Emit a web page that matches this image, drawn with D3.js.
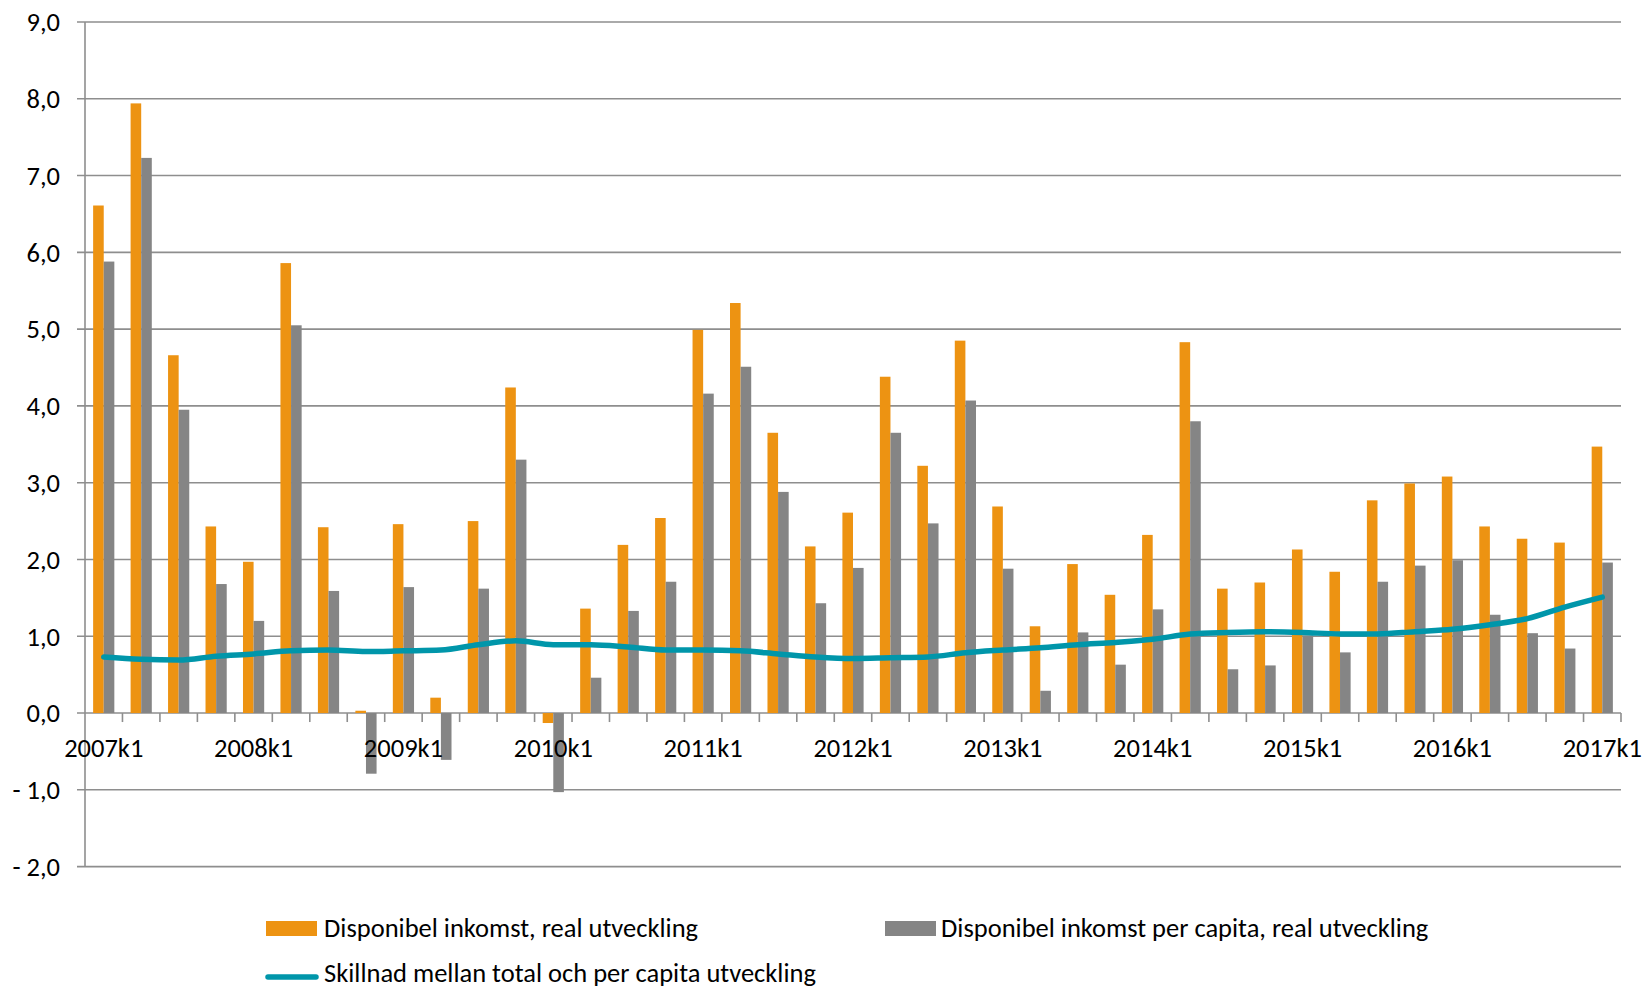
<!DOCTYPE html>
<html><head><meta charset="utf-8">
<script src="https://cdn.jsdelivr.net/npm/d3@7/dist/d3.min.js"></script>
<style>
html,body{margin:0;padding:0;background:#fff;}
svg{display:block;}
text{font-family:Calibri,Carlito,Lato,sans-serif;fill:#000;}
</style></head>
<body>
<svg id="chart" width="1645" height="989"></svg>
<script>
const quarters = ["2007k1","2007k2","2007k3","2007k4","2008k1","2008k2","2008k3","2008k4",
"2009k1","2009k2","2009k3","2009k4","2010k1","2010k2","2010k3","2010k4",
"2011k1","2011k2","2011k3","2011k4","2012k1","2012k2","2012k3","2012k4",
"2013k1","2013k2","2013k3","2013k4","2014k1","2014k2","2014k3","2014k4",
"2015k1","2015k2","2015k3","2015k4","2016k1","2016k2","2016k3","2016k4","2017k1"];
const totalReal = [6.61,7.94,4.66,2.43,1.97,5.86,2.42,0.03,
2.46,0.20,2.50,4.24,-0.13,1.36,2.19,2.54,
4.99,5.34,3.65,2.17,2.61,4.38,3.22,4.85,
2.69,1.13,1.94,1.54,2.32,4.83,1.62,1.70,
2.13,1.84,2.77,2.99,3.08,2.43,2.27,2.22,3.47];
const perCapita = [5.88,7.23,3.95,1.68,1.20,5.05,1.59,-0.79,
1.64,-0.61,1.62,3.30,-1.03,0.46,1.33,1.71,
4.16,4.51,2.88,1.43,1.89,3.65,2.47,4.07,
1.88,0.29,1.05,0.63,1.35,3.80,0.57,0.62,
1.01,0.79,1.71,1.92,1.99,1.28,1.04,0.84,1.96];
const difference = [0.73,0.70,0.69,0.74,0.77,0.81,0.82,0.80,
0.81,0.82,0.89,0.94,0.89,0.89,0.86,0.82,
0.82,0.81,0.77,0.73,0.71,0.72,0.73,0.785,
0.82,0.85,0.89,0.92,0.96,1.03,1.05,1.06,
1.05,1.03,1.03,1.06,1.09,1.15,1.23,1.38,1.51];
const yTicks = [9,8,7,6,5,4,3,2,1,0,-1,-2];
const xLabelEvery = 4;
const seriesNames = ["Disponibel inkomst, real utveckling","Disponibel inkomst per capita, real utveckling","Skillnad mellan total och per capita utveckling"];
const colors = {orange:"#ED9312", gray:"#858585", teal:"#0096AA", grid:"#8E8E8E"};

const svg = d3.select("#chart");
const plotLeft = 85, plotRight = 1621, plotTop = 22, plotBottom = 866.6;
const y = d3.scaleLinear().domain([-2,9]).range([plotBottom, plotTop]);
const x = d3.scaleBand().domain(quarters).range([plotLeft, plotRight]).paddingInner(0).paddingOuter(0);
const barW = x.bandwidth()*0.283;

// gridlines
svg.append("g").selectAll("line").data(yTicks).join("line")
  .attr("x1", plotLeft-8).attr("x2", plotRight)
  .attr("y1", d=>y(d)).attr("y2", d=>y(d))
  .attr("stroke", colors.grid).attr("stroke-width", 1.6);

// y labels
const fmt = d => (d<0 ? "- " + d3.format(".1f")(-d) : d3.format(".1f")(d)).replace(".", ",");
svg.append("g").selectAll("text").data(yTicks).join("text")
  .attr("x", 60).attr("y", d=>y(d)).attr("dy","0.35em")
  .attr("text-anchor","end").attr("font-size", 26.5).text(fmt);

// bars
const gBars = svg.append("g");
gBars.selectAll("rect.o").data(quarters).join("rect").attr("class","o")
  .attr("x", d=>x(d)+x.bandwidth()/2-barW)
  .attr("width", barW)
  .attr("y", (d,i)=>y(Math.max(0,totalReal[i])))
  .attr("height",(d,i)=>Math.abs(y(totalReal[i])-y(0)))
  .attr("fill", colors.orange);
gBars.selectAll("rect.g").data(quarters).join("rect").attr("class","g")
  .attr("x", d=>x(d)+x.bandwidth()/2)
  .attr("width", barW)
  .attr("y", (d,i)=>y(Math.max(0,perCapita[i])))
  .attr("height",(d,i)=>Math.abs(y(perCapita[i])-y(0)))
  .attr("fill", colors.gray);

// y axis line
svg.append("line").attr("x1",plotLeft).attr("x2",plotLeft).attr("y1",plotTop).attr("y2",plotBottom)
  .attr("stroke",colors.grid).attr("stroke-width",1.6);

// x axis
const xAxis = d3.axisBottom(x).tickSize(0).tickFormat((d,i)=> i%xLabelEvery===0 ? d : "");
const gx = svg.append("g").attr("transform",`translate(0,${y(0)})`).call(xAxis);
gx.select(".domain").remove();
gx.selectAll("text").attr("font-size",26.5).attr("dy",0).attr("y",44).style("font-family","Calibri,Carlito,Lato,sans-serif").attr("fill","#000");
const boundaries = quarters.map(q=>x(q)+x.bandwidth());
svg.append("g").selectAll("line").data(boundaries).join("line")
  .attr("x1",d=>d).attr("x2",d=>d).attr("y1",y(0)).attr("y2",y(0)+9)
  .attr("stroke",colors.grid).attr("stroke-width",1.6);

// line
const line = d3.line().x((d,i)=>x(quarters[i])+x.bandwidth()/2).y(d=>y(d)).curve(d3.curveMonotoneX);
svg.append("path").datum(difference).attr("d",line).attr("fill","none")
  .attr("stroke",colors.teal).attr("stroke-width",5.5).attr("stroke-linecap","round").attr("stroke-linejoin","round");

// legend
const lg = svg.append("g");
lg.append("rect").attr("x",266).attr("y",921).attr("width",51).attr("height",15).attr("fill",colors.orange);
lg.append("text").attr("x",324).attr("y",928).attr("dy","0.35em").attr("font-size",26.5).text(seriesNames[0]);
lg.append("rect").attr("x",885).attr("y",921).attr("width",51).attr("height",15).attr("fill",colors.gray);
lg.append("text").attr("x",941).attr("y",928).attr("dy","0.35em").attr("font-size",26.5).text(seriesNames[1]);
lg.append("line").attr("x1",268).attr("x2",316).attr("y1",977).attr("y2",977)
  .attr("stroke",colors.teal).attr("stroke-width",5.5).attr("stroke-linecap","round");
lg.append("text").attr("x",324).attr("y",973).attr("dy","0.35em").attr("font-size",26.5).text(seriesNames[2]);
</script>
</body></html>
